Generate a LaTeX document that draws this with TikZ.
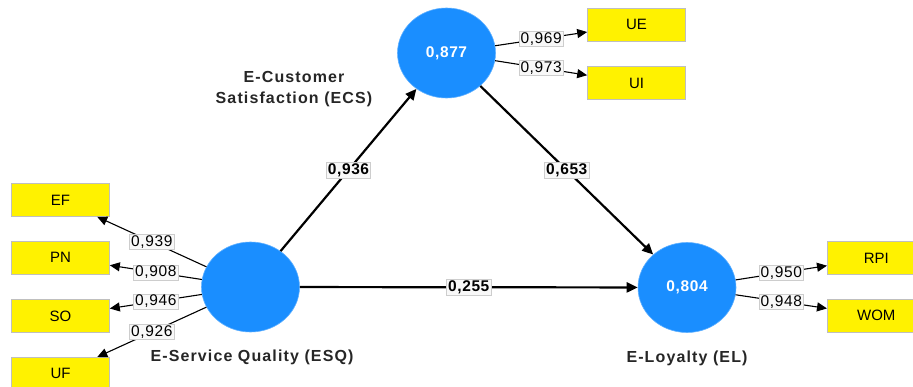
\documentclass[tikz,border=0pt]{standalone}
\usepackage{fontspec}
\setmainfont{Liberation Sans}
\newfontfamily\widefont[LetterSpace=7]{Liberation Sans}
\newfontfamily\lblfont[LetterSpace=4]{Liberation Sans}
\usetikzlibrary{arrows.meta,shapes.geometric}
\definecolor{lvblue}{RGB}{26,142,255}
\definecolor{lblfill}{RGB}{248,248,248}
\definecolor{lbldraw}{RGB}{205,205,205}
\begin{document}
\begin{tikzpicture}[x=1pt,y=-1pt,
  lv/.style={ellipse, fill=lvblue, draw=lvblue!70!white, line width=0.6pt, minimum width=98pt, minimum height=90pt, inner sep=0pt, text=white, font=\lblfont\fontsize{15.5}{17}\selectfont\bfseries},
  ind/.style={rectangle, fill=yellow, draw=black!25, line width=0.6pt, minimum width=98pt, minimum height=33pt, inner sep=0pt, font=\fontsize{15}{17}\selectfont},
  ld/.style={draw=black, line width=1.1pt, -{Triangle[length=10pt,width=9pt]}},
  pth/.style={draw=black, line width=2.2pt, -{Triangle[length=11pt,width=10pt]}},
  wl/.style={fill=lblfill, draw=lbldraw, line width=0.5pt, inner xsep=1.5pt, inner ysep=1.2pt, font=\lblfont\fontsize{15.5}{17}\selectfont},
  bl/.style={wl, font=\lblfont\fontsize{15.5}{17}\selectfont\bfseries},
  title/.style={text=black!85, font=\widefont\fontsize{16}{21}\selectfont\bfseries, align=center}]
\useasboundingbox (0,0) rectangle (913,387);
% latent variables
\node[lv] (ecs) at (446.5,53) {0,877};
\node[lv] (esq) at (250.5,287) {};
\node[lv] (el) at (687,287.5) {0,804};
% indicators
\node[ind] (ue) at (636.5,24.7) {UE};
\node[ind] (ui) at (636.5,83) {UI};
\node[ind] (ef) at (60.5,200) {EF};
\node[ind] (pn) at (60.5,257.7) {PN};
\node[ind] (so) at (60.5,316) {SO};
\node[ind] (uf) at (60.5,373.8) {UF};
\node[ind] (rpi) at (876.3,258) {RPI};
\node[ind] (wom) at (876.3,315.8) {WOM};
% titles
\node[title] (tecs) at (294,89) {E-Customer\\Satisfaction (ECS)};
\node[title] (tesq) at (252,357) {E-Service Quality (ESQ)};
\node[title] (tel) at (687,358) {E-Loyalty (EL)};
% loadings
\draw[ld] (esq) -- node[wl] {0,939} (ef);
\draw[ld] (esq) -- node[wl] {0,908} (pn);
\draw[ld] (esq) -- node[wl] {0,946} (so);
\draw[ld] (esq) -- node[wl] {0,926} (uf);
\draw[ld] (ecs) -- node[wl] {0,969} (ue);
\draw[ld] (ecs) -- node[wl] {0,973} (ui);
\draw[ld] (el) -- node[wl] {0,950} (rpi);
\draw[ld] (el) -- node[wl] {0,948} (wom);
% paths
\draw[pth] (esq) -- node[bl] {0,936} (ecs);
\draw[pth] (ecs) -- node[bl] {0,653} (el);
\draw[pth] (esq) -- node[bl] {0,255} (el);
\end{tikzpicture}
\end{document}
